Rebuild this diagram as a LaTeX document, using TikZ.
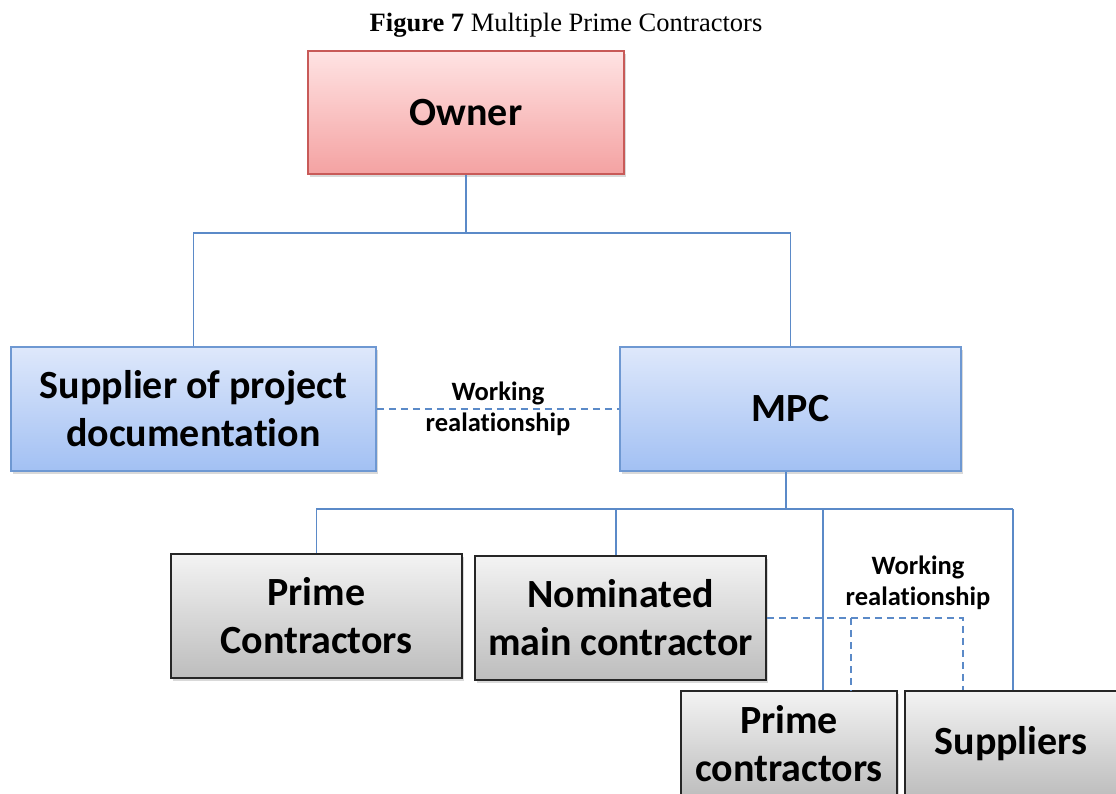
\documentclass[tikz,border=0pt]{standalone}
\usepackage{fontspec}
\setmainfont{Liberation Serif}
\newfontfamily\boxfont{Carlito}[Ligatures=NoCommon]
\usetikzlibrary{shadows,calc}

\definecolor{linkblue}{HTML}{5B8AC8}
\definecolor{ownerline}{HTML}{C85A58}
\definecolor{ownertop}{HTML}{FFE3E3}
\definecolor{ownerbot}{HTML}{F4A2A2}
\definecolor{bluetop}{HTML}{DEE8FB}
\definecolor{bluebot}{HTML}{A2C0F3}
\definecolor{blueline}{HTML}{6E98D2}
\definecolor{greytop}{HTML}{F3F3F3}
\definecolor{greybot}{HTML}{BDBDBD}
\definecolor{greyline}{HTML}{262626}

\tikzset{
  box/.style={rectangle, align=center, inner sep=0pt,
    font=\boxfont\bfseries\fontsize{40}{48}\selectfont,
    drop shadow={shadow xshift=2pt, shadow yshift=-3pt, opacity=0.3}},
  ownerbox/.style={box, draw=ownerline, line width=1.6pt,
    shading=axis, top color=ownertop, bottom color=ownerbot},
  bluebox/.style={box, draw=blueline, line width=1.6pt,
    shading=axis, top color=bluetop, bottom color=bluebot},
  greybox/.style={box, draw=greyline, line width=1.8pt,
    shading=axis, top color=greytop, bottom color=greybot},
  conn/.style={draw=linkblue, line width=1.6pt},
  workconn/.style={draw=linkblue, line width=1.6pt, dash pattern=on 7pt off 5pt},
  worklabel/.style={align=center, inner sep=0pt,
    font=\boxfont\bfseries\fontsize{26.5}{31}\selectfont}
}

\begin{document}
\begin{tikzpicture}[x=1pt,y=-1pt]
  \useasboundingbox (0,0) rectangle (1116,794);
  \clip (0,0) rectangle (1116,794);

  % caption
  \node[inner sep=0pt, font=\fontsize{26.5}{30}\selectfont] (title) at (566,25)
    {\textbf{Figure 7} Multiple Prime Contractors};

  % boxes
  \node[ownerbox, minimum width=316pt, minimum height=123pt] (owner) at (466,112.5) {Owner};
  \node[bluebox, minimum width=365pt, minimum height=124pt] (sup) at (193.5,409)
    {Supplier of project\\documentation};
  \node[bluebox, minimum width=341pt, minimum height=124pt] (mpc) at (790.5,409) {MPC};
  \node[greybox, minimum width=291pt, minimum height=124pt] (pc) at (316.5,616)
    {Prime\\Contractors};
  \node[greybox, minimum width=291pt, minimum height=124pt] (nom) at (620.5,618)
    {Nominated\\main contractor};
  \node[greybox, minimum width=216pt, minimum height=106pt] (pcb) at (789,744)
    {Prime\\contractors};
  \node[greybox, minimum width=212pt, minimum height=106pt] (sups) at (1011,744)
    {Suppliers};

  % owner to first level
  \coordinate (busA) at (466,233);
  \draw[conn] (owner.south) -- (busA);
  \draw[conn] (sup.north) |- (busA) -| (mpc.north);

  % MPC to second level
  \coordinate (busB) at (786,509);
  \draw[conn] ([xshift=-4.5pt]mpc.south) -- (busB);
  \draw[conn] (pc.north) |- (busB);
  \draw[conn] ([xshift=-4.5pt]nom.north) |- (busB);
  \draw[conn] (busB) -- (1013,509) coordinate (busBend);
  \draw[conn] ([xshift=34pt]pcb.north) -- ([xshift=34pt]pcb.north |- busB);
  \draw[conn] ([xshift=2pt]sups.north) -- (busBend);

  % working relationships
  \draw[workconn] (sup.east) -- (mpc.west);
  \node[worklabel] (wr1) at (498,409) {Working\\realationship};

  \coordinate (wkA) at (851,618);
  \coordinate (wkB) at (963,618);
  \draw[workconn] (nom.east) -- (wkB) -- ([xshift=-48pt]sups.north);
  \draw[workconn] (wkA) -- ([xshift=62pt]pcb.north);
  \node[worklabel] (wr2) at (918,583) {Working\\realationship};
\end{tikzpicture}
\end{document}
